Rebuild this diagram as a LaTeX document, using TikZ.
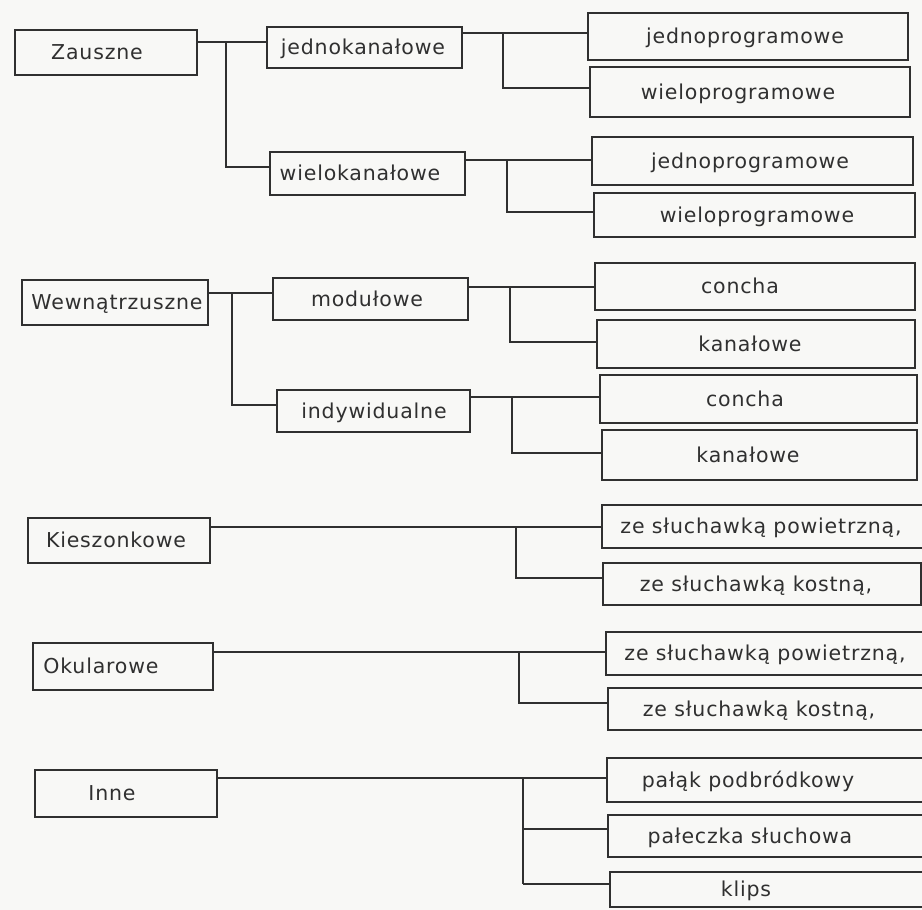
\documentclass[tikz,border=0pt]{standalone}
\usepackage{fontspec}
\setmainfont{DejaVu Sans}[LetterSpace=4]
\definecolor{ink}{HTML}{303030}
\definecolor{paper}{HTML}{F8F8F6}
\newcommand\mkbox[7]{%
  \node[bx, minimum width={#4-#2}, minimum height={#5-#3}] (#1) at ({(#2+#4)/2},{(#3+#5)/2}) {};
  \node[txt] (#1t) at (#6,{(#3+#5)/2+7}) {#7};}
\begin{document}
\begin{tikzpicture}[x=1pt,y=-1pt,
  bx/.style={draw=ink, line width=2.8pt, inner sep=0pt, outer sep=0pt},
  txt/.style={anchor=base, inner sep=0pt, text=ink, font=\fontsize{20.5}{22}\selectfont},
  ln/.style={draw=ink, line width=1.7pt}]
\useasboundingbox (0,0) rectangle (922,910);
\fill[paper] (0,0) rectangle (922,910);

% group 1
\mkbox{zau}{15}{30}{197}{75}{97}{Zauszne}
\mkbox{jk}{267}{27}{462}{68}{363}{jednokanałowe}
\mkbox{wk}{270}{152}{465}{195}{360}{wielokanałowe}
\mkbox{jpa}{588}{13}{908}{60}{745}{jednoprogramowe}
\mkbox{wpa}{590}{67}{910}{117}{738}{wieloprogramowe}
\mkbox{jpb}{592}{137}{913}{185}{750}{jednoprogramowe}
\mkbox{wpb}{594}{193}{915}{237}{757}{wieloprogramowe}
\coordinate (a1) at (226,42); \coordinate (a2) at (226,167);
\draw[ln] (zau.east|-a1) -- (jk.west|-a1);
\draw[ln] (a1) -- (a2) -- (wk.west|-a2);
\coordinate (a3) at (503,33); \coordinate (a4) at (503,88);
\draw[ln] (jk.east|-a3) -- (jpa.west|-a3);
\draw[ln] (a3) -- (a4) -- (wpa.west|-a4);
\coordinate (a5) at (507,160); \coordinate (a6) at (507,212);
\draw[ln] (wk.east|-a5) -- (jpb.west|-a5);
\draw[ln] (a5) -- (a6) -- (wpb.west|-a6);

% group 2
\mkbox{wew}{22}{280}{208}{325}{117}{Wewnątrzuszne}
\mkbox{mod}{273}{278}{468}{320}{367}{modułowe}
\mkbox{ind}{277}{390}{470}{432}{374}{indywidualne}
\mkbox{coa}{595}{263}{915}{310}{740}{concha}
\mkbox{kaa}{597}{320}{915}{368}{750}{kanałowe}
\mkbox{cob}{600}{375}{917}{423}{745}{concha}
\mkbox{kab}{602}{430}{917}{480}{748}{kanałowe}
\coordinate (b1) at (232,293); \coordinate (b2) at (232,405);
\draw[ln] (wew.east|-b1) -- (mod.west|-b1);
\draw[ln] (b1) -- (b2) -- (ind.west|-b2);
\coordinate (b3) at (510,287); \coordinate (b4) at (510,342);
\draw[ln] (mod.east|-b3) -- (coa.west|-b3);
\draw[ln] (b3) -- (b4) -- (kaa.west|-b4);
\coordinate (b5) at (512,397); \coordinate (b6) at (512,453);
\draw[ln] (ind.east|-b5) -- (cob.west|-b5);
\draw[ln] (b5) -- (b6) -- (kab.west|-b6);

% group 3
\mkbox{kie}{28}{518}{210}{563}{116}{Kieszonkowe}
\mkbox{ka}{602}{505}{926}{548}{761}{ze słuchawką powietrzną,}
\mkbox{kb}{603}{563}{921}{605}{756}{ze słuchawką kostną,}
\coordinate (c1) at (516,527); \coordinate (c2) at (516,578);
\draw[ln] (kie.east|-c1) -- (ka.west|-c1);
\draw[ln] (c1) -- (c2) -- (kb.west|-c2);

% group 4
\mkbox{oku}{33}{643}{213}{690}{101}{Okularowe}
\mkbox{oc}{606}{632}{926}{675}{765}{ze słuchawką powietrzną,}
\mkbox{od}{608}{688}{926}{730}{759}{ze słuchawką kostną,}
\coordinate (d1) at (519,652); \coordinate (d2) at (519,703);
\draw[ln] (oku.east|-d1) -- (oc.west|-d1);
\draw[ln] (d1) -- (d2) -- (od.west|-d2);

% group 5
\mkbox{inn}{35}{770}{217}{817}{112}{Inne}
\mkbox{pal}{607}{758}{926}{802}{748}{pałąk podbródkowy}
\mkbox{pec}{608}{815}{926}{857}{750}{pałeczka słuchowa}
\mkbox{kli}{610}{872}{926}{907}{746}{klips}
\coordinate (e1) at (523,778); \coordinate (e2) at (523,829); \coordinate (e3) at (523,884);
\draw[ln] (inn.east|-e1) -- (pal.west|-e1);
\draw[ln] (e1) -- (e3);
\draw[ln] (e2) -- (pec.west|-e2);
\draw[ln] (e3) -- (kli.west|-e3);
\end{tikzpicture}
\end{document}
